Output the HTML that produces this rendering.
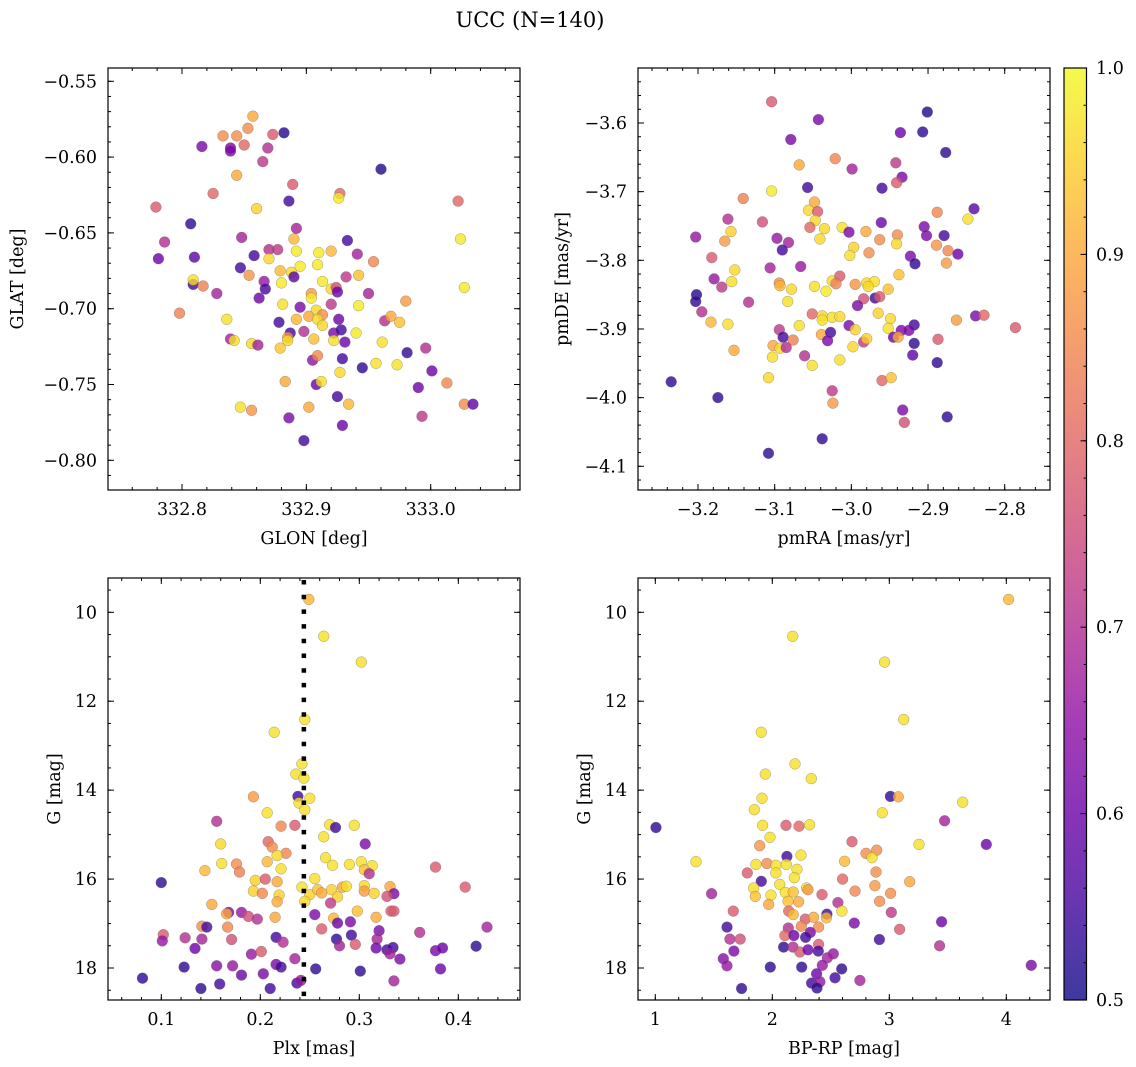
<!DOCTYPE html>
<html><head><meta charset="utf-8"><style>
html,body{margin:0;padding:0;background:#fff;}
svg{display:block;font-family:"DejaVu Serif","Liberation Serif",serif;}
</style></head><body>
<svg id="fig" width="1136" height="1067" viewBox="0 0 1136 1067" xmlns="http://www.w3.org/2000/svg">
<rect width="1136" height="1067" fill="#fff"/>
<text x="530" y="27" font-size="21" text-anchor="middle">UCC (N=140)</text>
<defs><linearGradient id="cbg" x1="0" y1="1" x2="0" y2="0"></linearGradient></defs>
</svg>
<script>
// ---- Panel 1: GLON / GLAT ----
const p1Lon=[332.857,332.853,332.833,332.844,332.850,332.873,332.882,332.816,332.839,332.839,332.869,332.865,332.844,332.960,332.889,332.825,332.927,332.926,332.779,332.886,332.860,333.022,332.807,332.892,332.848,332.786,332.933,332.890,333.024,332.781,332.810,332.858,332.870,332.877,332.870,332.892,332.910,332.920,332.941,332.954,332.847,332.854,332.895,332.909,332.879,332.888,332.890,332.880,332.866,332.867,332.809,332.809,332.817,332.828,332.862,332.913,332.920,332.924,332.925,332.932,332.942,332.950,332.904,332.904,332.920,332.881,332.895,332.908,332.913,332.902,332.942,332.980,332.798,332.836,332.892,332.909,332.913,332.878,332.926,332.963,332.968,332.975,332.898,332.887,332.885,332.885,332.879,332.906,332.922,332.928,332.922,332.931,332.940,332.839,332.842,332.856,332.861,332.961,332.981,332.996,332.905,332.909,332.929,332.945,332.956,332.973,333.001,332.927,332.883,332.908,332.912,332.990,333.013,332.925,332.934,332.902,332.847,332.856,332.886,333.027,333.034,332.993,332.929,332.898,333.027];
const p1Lat=[-0.573,-0.581,-0.586,-0.586,-0.592,-0.585,-0.584,-0.593,-0.594,-0.596,-0.594,-0.603,-0.612,-0.608,-0.618,-0.624,-0.624,-0.627,-0.633,-0.629,-0.634,-0.629,-0.644,-0.647,-0.653,-0.656,-0.655,-0.654,-0.654,-0.667,-0.666,-0.665,-0.661,-0.661,-0.667,-0.662,-0.663,-0.662,-0.664,-0.669,-0.673,-0.678,-0.672,-0.671,-0.675,-0.676,-0.679,-0.683,-0.682,-0.687,-0.684,-0.681,-0.685,-0.690,-0.693,-0.682,-0.687,-0.686,-0.689,-0.679,-0.678,-0.690,-0.690,-0.693,-0.697,-0.697,-0.699,-0.701,-0.704,-0.705,-0.698,-0.695,-0.703,-0.707,-0.707,-0.707,-0.711,-0.709,-0.707,-0.708,-0.705,-0.709,-0.715,-0.716,-0.719,-0.721,-0.726,-0.720,-0.716,-0.714,-0.721,-0.722,-0.716,-0.720,-0.721,-0.723,-0.724,-0.722,-0.729,-0.726,-0.734,-0.731,-0.733,-0.739,-0.736,-0.737,-0.741,-0.742,-0.748,-0.750,-0.748,-0.752,-0.749,-0.758,-0.763,-0.765,-0.765,-0.767,-0.772,-0.763,-0.763,-0.771,-0.777,-0.787,-0.686];
const p1Prob=[.9,.86,.86,.86,.8,.78,.52,.62,.62,.62,.7,.72,.9,.52,.78,.8,.8,.98,.78,.55,.95,.8,.53,.68,.68,.7,.55,.92,.98,.6,.58,.55,.7,.72,.96,.98,.98,.92,.68,.85,.55,.87,.98,.98,.92,.96,.58,.98,.66,.56,.55,.97,.84,.68,.6,.98,.96,.76,.6,.72,.93,.68,.88,.98,.72,.97,.62,.96,.86,.9,.98,.88,.84,.97,.92,.96,.96,.55,.6,.7,.9,.93,.7,.55,.88,.96,.94,.93,.62,.55,.97,.6,.98,.68,.97,.96,.68,.97,.53,.7,.65,.85,.55,.53,.97,.97,.6,.96,.9,.6,.97,.6,.85,.55,.92,.9,.97,.87,.62,.86,.58,.72,.6,.55,.98];
const p1XTicks=[332.8,332.9,333.0];
const p1XTickLabels=["332.8","332.9","333.0"];
const p1YTicks=[-0.55,-0.60,-0.65,-0.70,-0.75,-0.80];
const p1YTickLabels=["−0.55","−0.60","−0.65","−0.70","−0.75","−0.80"];

// ---- Panel 2: pmRA / pmDE ----
const p2RA=[-3.104,-3.043,-2.901,-3.079,-2.936,-2.907,-2.877,-3.068,-3.021,-2.999,-2.942,-2.934,-2.941,-3.057,-2.960,-3.104,-3.141,-3.048,-3.056,-3.044,-3.047,-2.840,-2.848,-2.888,-3.161,-3.116,-3.157,-3.165,-3.203,-3.054,-3.035,-3.041,-3.012,-3.003,-2.981,-2.961,-2.963,-2.940,-2.941,-2.905,-2.902,-2.879,-2.889,-2.874,-2.861,-2.876,-3.097,-3.082,-3.090,-2.997,-3.002,-2.977,-2.923,-2.917,-3.182,-3.152,-3.156,-3.179,-3.169,-3.106,-3.066,-3.094,-3.093,-3.078,-3.083,-3.025,-3.015,-3.020,-3.048,-3.033,-2.995,-2.980,-2.970,-2.978,-2.952,-2.938,-2.984,-2.969,-2.963,-2.992,-3.202,-3.203,-3.195,-3.134,-3.183,-3.161,-3.051,-3.038,-3.025,-3.015,-3.038,-2.965,-2.949,-2.952,-3.068,-3.003,-2.995,-2.918,-2.935,-2.925,-2.945,-2.939,-2.863,-2.838,-2.827,-2.786,-3.094,-3.089,-3.076,-3.102,-3.093,-3.085,-3.039,-3.027,-3.031,-2.984,-2.980,-2.998,-2.918,-2.920,-2.887,-3.153,-3.103,-3.061,-3.051,-3.015,-2.888,-3.108,-2.960,-2.948,-3.235,-3.174,-3.025,-3.024,-2.933,-2.931,-2.875,-3.038,-3.108];
const p2DE=[-3.569,-3.595,-3.584,-3.624,-3.614,-3.613,-3.643,-3.661,-3.652,-3.667,-3.658,-3.679,-3.687,-3.694,-3.695,-3.699,-3.710,-3.715,-3.727,-3.729,-3.742,-3.725,-3.740,-3.730,-3.740,-3.744,-3.758,-3.772,-3.766,-3.752,-3.754,-3.769,-3.752,-3.759,-3.758,-3.745,-3.770,-3.763,-3.776,-3.751,-3.764,-3.764,-3.778,-3.786,-3.791,-3.804,-3.768,-3.774,-3.785,-3.781,-3.793,-3.789,-3.794,-3.805,-3.796,-3.814,-3.831,-3.827,-3.839,-3.811,-3.809,-3.833,-3.837,-3.842,-3.860,-3.830,-3.823,-3.834,-3.838,-3.845,-3.835,-3.833,-3.831,-3.838,-3.842,-3.821,-3.856,-3.855,-3.853,-3.866,-3.850,-3.860,-3.875,-3.861,-3.890,-3.893,-3.878,-3.881,-3.883,-3.882,-3.887,-3.877,-3.885,-3.899,-3.895,-3.895,-3.901,-3.894,-3.902,-3.902,-3.912,-3.912,-3.887,-3.881,-3.880,-3.898,-3.901,-3.912,-3.916,-3.924,-3.928,-3.927,-3.908,-3.905,-3.917,-3.919,-3.914,-3.926,-3.921,-3.938,-3.915,-3.931,-3.941,-3.939,-3.953,-3.945,-3.949,-3.971,-3.975,-3.971,-3.977,-4.000,-3.990,-4.008,-4.018,-4.036,-4.028,-4.060,-4.081];
const p2Prob=[.78,.62,.52,.62,.6,.53,.53,.9,.85,.68,.72,.62,.78,.55,.55,.98,.84,.9,.96,.78,.96,.58,.97,.85,.7,.76,.95,.88,.66,.8,.96,.96,.97,.62,.9,.6,.86,.86,.96,.62,.62,.55,.87,.85,.6,.88,.66,.68,.55,.95,.97,.86,.62,.53,.78,.96,.97,.66,.72,.68,.66,.86,.92,.96,.97,.96,.78,.84,.97,.98,.87,.96,.97,.96,.93,.93,.76,.55,.78,.62,.52,.53,.7,.7,.92,.97,.8,.96,.97,.96,.97,.95,.96,.97,.97,.62,.95,.55,.62,.62,.6,.9,.88,.62,.8,.78,.72,.55,.84,.9,.96,.7,.9,.55,.62,.72,.95,.96,.53,.58,.78,.9,.97,.7,.97,.97,.53,.96,.8,.93,.53,.53,.72,.88,.62,.76,.53,.53,.53];
const p2XTicks=[-3.2,-3.1,-3.0,-2.9,-2.8];
const p2XTickLabels=["−3.2","−3.1","−3.0","−2.9","−2.8"];
const p2YTicks=[-3.6,-3.7,-3.8,-3.9,-4.0,-4.1];
const p2YTickLabels=["−3.6","−3.7","−3.8","−3.9","−4.0","−4.1"];

// ---- Panel 3: Plx / G ----
const p3Plx=[0.249,0.264,0.302,0.245,0.214,0.242,0.236,0.244,0.238,0.250,0.239,0.245,0.193,0.207,0.156,0.221,0.235,0.270,0.276,0.295,0.264,0.306,0.160,0.208,0.212,0.226,0.217,0.207,0.266,0.273,0.290,0.302,0.313,0.305,0.310,0.161,0.176,0.179,0.144,0.221,0.377,0.100,0.195,0.205,0.217,0.193,0.202,0.219,0.217,0.242,0.255,0.250,0.258,0.262,0.272,0.278,0.283,0.287,0.305,0.305,0.315,0.331,0.335,0.328,0.407,0.245,0.271,0.151,0.168,0.166,0.181,0.188,0.197,0.215,0.255,0.274,0.278,0.291,0.298,0.317,0.332,0.335,0.141,0.146,0.167,0.102,0.101,0.124,0.141,0.171,0.216,0.223,0.262,0.277,0.280,0.292,0.296,0.320,0.318,0.317,0.328,0.334,0.331,0.341,0.361,0.377,0.384,0.418,0.429,0.134,0.191,0.201,0.235,0.123,0.156,0.172,0.216,0.221,0.256,0.301,0.382,0.081,0.140,0.159,0.181,0.203,0.210,0.237,0.241,0.335];
const p3G=[9.71,10.54,11.12,12.41,12.70,13.41,13.64,13.73,14.14,14.18,14.29,14.44,14.15,14.51,14.70,14.81,14.79,14.78,14.84,14.79,15.05,15.21,15.21,15.16,15.28,15.42,15.47,15.61,15.52,15.69,15.67,15.61,15.70,15.79,15.88,15.65,15.66,15.84,15.81,15.77,15.73,16.08,16.03,16.00,16.06,16.27,16.32,16.36,16.51,16.18,15.99,16.35,16.24,16.31,16.24,16.40,16.18,16.16,16.15,16.27,16.32,16.17,16.33,16.39,16.18,16.50,16.54,16.57,16.75,16.78,16.75,16.84,16.90,16.86,16.80,16.88,16.99,16.96,16.72,16.86,16.72,16.72,17.06,17.08,17.08,17.25,17.39,17.32,17.35,17.36,17.31,17.42,17.12,17.35,17.50,17.26,17.47,17.16,17.35,17.55,17.59,17.54,17.68,17.80,17.20,17.61,17.55,17.51,17.08,17.56,17.69,17.63,17.79,17.98,17.95,17.95,17.92,17.98,18.02,18.07,18.02,18.23,18.46,18.36,18.16,18.13,18.46,18.34,18.28,18.29];
const p3Prob=[.92,.97,.97,.97,.97,.97,.97,.97,.55,.97,.97,.97,.88,.97,.7,.85,.78,.97,.55,.97,.97,.62,.96,.8,.86,.85,.96,.92,.97,.97,.97,.97,.97,.93,.7,.97,.86,.84,.92,.97,.78,.53,.95,.78,.9,.95,.85,.95,.9,.97,.97,.95,.93,.9,.95,.95,.9,.97,.96,.88,.95,.9,.62,.76,.78,.96,.72,.9,.62,.9,.66,.76,.7,.9,.62,.92,.6,.62,.93,.9,.78,.78,.86,.55,.85,.78,.66,.7,.68,.76,.55,.7,.78,.53,.68,.55,.78,.62,.68,.6,.55,.55,.68,.62,.7,.62,.6,.53,.68,.6,.66,.78,.68,.53,.64,.66,.62,.55,.53,.53,.6,.53,.53,.55,.6,.62,.55,.55,.66,.68];
const p3RefPlx=[0.244];
const p3XTicks=[0.1,0.2,0.3,0.4];
const p3XTickLabels=["0.1","0.2","0.3","0.4"];
const p3YTicks=[10,12,14,16,18];
const p3YTickLabels=["10","12","14","16","18"];

// ---- Panel 4: BP-RP / G ----
const p4BPRP=[4.020,2.174,2.960,3.123,1.906,2.194,1.940,2.333,1.912,1.846,3.009,3.077,3.627,2.940,1.006,3.473,1.917,2.117,2.228,2.319,1.980,1.892,2.681,3.254,3.829,2.125,2.245,1.348,1.860,1.954,2.031,2.120,2.211,2.618,2.801,2.892,2.852,2.886,1.786,1.906,2.031,2.188,2.601,3.174,2.877,2.707,3.011,1.481,1.840,1.855,1.989,2.063,2.111,2.179,2.293,2.305,2.425,1.969,2.134,2.225,2.561,2.595,2.917,3.017,1.667,2.140,2.179,2.282,2.353,2.467,2.462,2.396,2.701,3.447,3.088,1.613,2.137,2.248,2.325,1.638,1.726,2.108,2.185,2.285,2.915,3.430,1.672,2.097,2.177,2.236,2.305,2.396,2.393,1.581,1.613,1.983,2.251,2.521,2.470,2.427,2.593,2.536,2.379,2.336,2.407,2.382,2.749,4.214,1.738];
const p4G=[9.71,10.54,11.12,12.41,12.70,13.41,13.64,13.74,14.18,14.44,14.14,14.15,14.27,14.51,14.84,14.69,14.79,14.79,14.81,14.78,15.06,15.25,15.16,15.22,15.22,15.49,15.46,15.61,15.67,15.65,15.69,15.67,15.78,15.60,15.42,15.35,15.52,15.84,15.86,16.05,15.86,15.97,16.00,16.06,16.15,16.27,16.32,16.33,16.20,16.39,16.36,16.12,16.30,16.29,16.20,16.24,16.35,16.57,16.50,16.51,16.53,16.72,16.50,16.75,16.72,16.72,16.80,16.90,16.86,16.79,16.87,17.08,16.99,16.96,17.13,17.08,17.10,17.06,17.20,17.35,17.35,17.27,17.27,17.31,17.36,17.50,17.62,17.53,17.53,17.64,17.59,17.47,17.62,17.79,17.95,17.98,17.98,17.68,17.77,17.94,18.02,18.22,18.13,18.34,18.31,18.45,18.28,17.94,18.46];
const p4Prob=[.92,.97,.97,.97,.97,.97,.97,.97,.97,.97,.53,.9,.97,.97,.53,.68,.97,.78,.8,.97,.97,.87,.78,.97,.6,.55,.97,.97,.97,.86,.97,.97,.97,.92,.86,.86,.97,.86,.78,.55,.97,.97,.8,.9,.88,.85,.86,.68,.97,.93,.97,.97,.97,.93,.97,.88,.78,.9,.93,.9,.7,.97,.86,.72,.78,.8,.92,.78,.9,.55,.92,.86,.62,.6,.78,.55,.7,.85,.62,.7,.76,.8,.6,.55,.55,.7,.62,.53,.7,.78,.6,.78,.55,.64,.66,.53,.53,.66,.68,.66,.53,.55,.6,.55,.66,.53,.68,.62,.53];
const p4XTicks=[1,2,3,4];
const p4XTickLabels=["1","2","3","4"];
const p4YTicks=[10,12,14,16,18];
const p4YTickLabels=["10","12","14","16","18"];

// ---- Colorbar ----
const cbTicks=[0.5,0.6,0.7,0.8,0.9,1.0];
const cbTickLabels=["0.5","0.6","0.7","0.8","0.9","1.0"];

const NS="http://www.w3.org/2000/svg";
const svg=document.getElementById('fig');
const FS=17.5;
function mk(tag,attrs,parent){const e=document.createElementNS(NS,tag);for(const k in attrs)e.setAttribute(k,attrs[k]);(parent||svg).appendChild(e);return e;}
const PL=["#0d0887","#41049d","#6a00a8","#8f0da4","#b12a90","#cc4778","#e16462","#f2844b","#fca636","#fcce25","#f0f921"];
function hex(h){return [parseInt(h.substr(1,2),16),parseInt(h.substr(3,2),16),parseInt(h.substr(5,2),16)];}
function plasma(t){t=Math.max(0,Math.min(1,t));const f=t*10,i=Math.min(9,Math.floor(f)),u=f-i;const a=hex(PL[i]),b=hex(PL[i+1]);return "rgb("+a.map((v,k)=>Math.round(v+(b[k]-v)*u)).join(",")+")";}
function cmap(p){return plasma((p-0.5)/0.5);}

function lin(d0,d1,r0,r1){return v=>r0+(v-d0)/(d1-d0)*(r1-r0);}

function panel(cfg){
  const {name,x0,y0,x1,y1,xs,ys,xd,yd,xT,xTL,yT,yTL,xMinor,yMinor,xLab,yLab,yLabX,ytlX}=cfg;
  const g=mk('g',{});
  
  
  const pts=mk('g',{},g);
  
  
  for(let i=0;i<xd.length;i++){
    const c=mk('circle',{cx:xs(xd[i]).toFixed(1),cy:ys(yd[i]).toFixed(1),r:5.4,fill:cmap(cfg.cd[i]),'fill-opacity':0.8,stroke:'#666','stroke-opacity':0.6,'stroke-width':0.5},pts);
    
    
  }
  if(cfg.extra)cfg.extra(g);
  const frame=mk('rect',{x:x0,y:y0,width:x1-x0,height:y1-y0,fill:'none',stroke:'#000','stroke-width':1.2},g);
  
  
  const tg=mk('g',{stroke:'#000','stroke-width':1},g);
  
  
  for(let v=xMinor[0];v<=xMinor[1]+1e-9;v+=xMinor[2]){const X=xs(v);if(X<x0+0.5||X>x1-0.5)continue;mk('line',{x1:X,x2:X,y1:y1,y2:y1-3},tg);mk('line',{x1:X,x2:X,y1:y0,y2:y0+3},tg);}
  for(let v=yMinor[0];v<=yMinor[1]+1e-9;v+=yMinor[2]){const Y=ys(v);if(Y<y0+0.5||Y>y1-0.5)continue;mk('line',{x1:x0,x2:x0+3,y1:Y,y2:Y},tg);mk('line',{x1:x1,x2:x1-3,y1:Y,y2:Y},tg);}
  xT.forEach((v,i)=>{const X=xs(v);mk('line',{x1:X,x2:X,y1:y1,y2:y1-6},tg);mk('line',{x1:X,x2:X,y1:y0,y2:y0+6},tg);
    const t=mk('text',{x:X,y:y1+25,'font-size':FS,'text-anchor':'middle'},g);t.textContent=xTL[i];
    
    });
  yT.forEach((v,i)=>{const Y=ys(v);mk('line',{x1:x0,x2:x0+6,y1:Y,y2:Y},tg);mk('line',{x1:x1,x2:x1-6,y1:Y,y2:Y},tg);
    const t=mk('text',{x:ytlX,y:Y+6,'font-size':FS,'text-anchor':'end'},g);t.textContent=yTL[i];
    
    });
  const xl=mk('text',{x:(x0+x1)/2,y:y1+54,'font-size':FS,'text-anchor':'middle'},g);xl.textContent=xLab;
  
  
  const yl=mk('text',{x:yLabX,y:(y0+y1)/2,'font-size':FS,'text-anchor':'middle',transform:`rotate(-90 ${yLabX} ${(y0+y1)/2})`},g);yl.textContent=yLab;
  
  
}

panel({name:'glon-glat-panel',x0:108,y0:68,x1:520,y1:490,
  xs:lin(332.8,333.0,182,430.7),ys:lin(-0.55,-0.80,81.3,460.3),
  xd:p1Lon,yd:p1Lat,cd:p1Prob,xT:p1XTicks,xTL:p1XTickLabels,yT:p1YTicks,yTL:p1YTickLabels,
  xMinor:[332.74,333.06,0.02],yMinor:[-0.82,-0.54,0.01],xLab:'GLON [deg]',yLab:'GLAT [deg]',yLabX:23,ytlX:97});
panel({name:'pm-panel',x0:638,y0:68,x1:1050,y1:490,
  xs:lin(-3.2,-2.8,698,1004.7),ys:lin(-3.6,-4.1,123,466.3),
  xd:p2RA,yd:p2DE,cd:p2Prob,xT:p2XTicks,xTL:p2XTickLabels,yT:p2YTicks,yTL:p2YTickLabels,
  xMinor:[-3.26,-2.74,0.02],yMinor:[-4.14,-3.50,0.02],xLab:'pmRA [mas/yr]',yLab:'pmDE [mas/yr]',yLabX:568,ytlX:627});
const p3xs=lin(0.1,0.4,161.3,458.3), p3ys=lin(10,18,612.3,968);
panel({name:'plx-g-panel',x0:108,y0:578,x1:520,y1:1000,
  xs:p3xs,ys:p3ys,
  xd:p3Plx,yd:p3G,cd:p3Prob,xT:p3XTicks,xTL:p3XTickLabels,yT:p3YTicks,yTL:p3YTickLabels,
  xMinor:[0.04,0.48,0.02],yMinor:[9,19,0.5],xLab:'Plx [mas]',yLab:'G [mag]',yLabX:60,ytlX:97,
  extra:g=>{p3RefPlx.forEach(v=>{const l=mk('line',{x1:p3xs(v),x2:p3xs(v),y1:580,y2:1000,stroke:'#000','stroke-width':4.5,'stroke-dasharray':'4.5 10.2'},g);
    
    });}});
panel({name:'cmd-panel',x0:638,y0:578,x1:1050,y1:1000,
  xs:lin(1,4,655.3,1006.3),ys:lin(10,18,612.3,968),
  xd:p4BPRP,yd:p4G,cd:p4Prob,xT:p4XTicks,xTL:p4XTickLabels,yT:p4YTicks,yTL:p4YTickLabels,
  xMinor:[0.8,4.4,0.2],yMinor:[9,19,0.5],xLab:'BP-RP [mag]',yLab:'G [mag]',yLabX:590,ytlX:627});

const grad=document.getElementById('cbg');
for(let i=0;i<=20;i++){mk('stop',{offset:(i/20),'stop-color':plasma(i/20)},grad);}
const cb=mk('g',{});


const cby=lin(0.5,1.0,1000,68);
mk('rect',{x:1064,y:68,width:22.5,height:932,fill:'url(#cbg)','fill-opacity':0.8},cb);
mk('rect',{x:1064,y:68,width:22.5,height:932,fill:'none',stroke:'#000','stroke-width':1.2},cb);
for(let v=0.5;v<=1.0001;v+=0.02){mk('line',{x1:1086.5,x2:1083.5,y1:cby(v),y2:cby(v),stroke:'#000','stroke-width':1},cb);}
cbTicks.forEach((v,i)=>{mk('line',{x1:1086.5,x2:1080.5,y1:cby(v),y2:cby(v),stroke:'#000','stroke-width':1},cb);
  const t=mk('text',{x:1096,y:cby(v)+6,'font-size':FS},cb);t.textContent=cbTickLabels[i];
  
  });
</script>
</body></html>
